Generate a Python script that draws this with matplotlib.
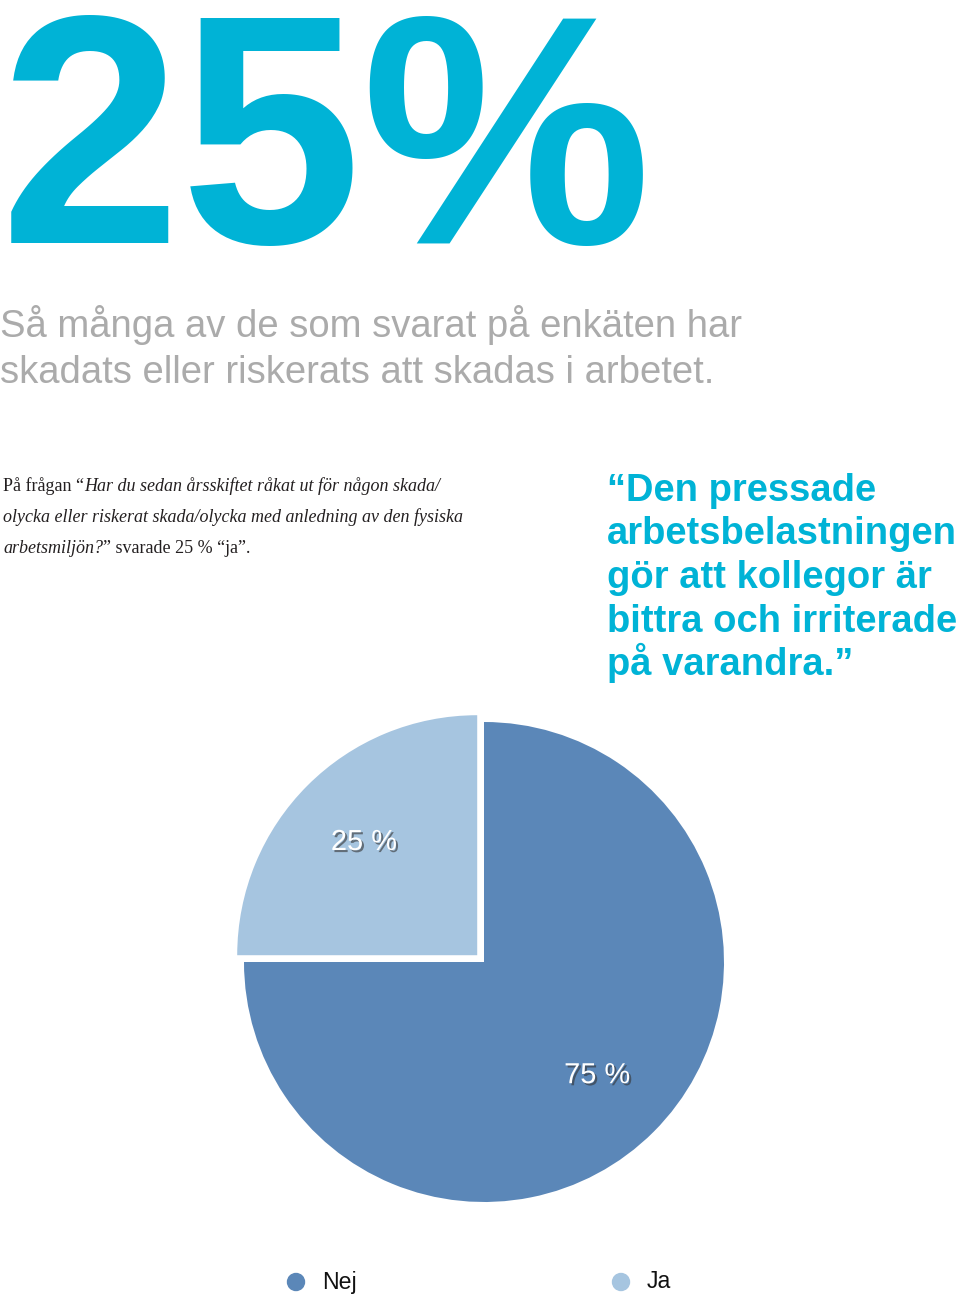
import matplotlib
matplotlib.use("Agg")
import matplotlib.pyplot as plt
import matplotlib.patheffects as pe

W, H = 960, 1297
DPI = 100

# ---- data ----
categories = ["Nej", "Ja"]
values = [75, 25]
colors = ["#5b87b8", "#a6c5e0"]
pct_labels = ["75 %", "25 %"]

big_number = "25%"
subtitle_lines = ["Så många av de som svarat på enkäten har",
                  "skadats eller riskerats att skadas i arbetet."]
quote_lines = ["“Den pressade", "arbetsbelastningen", "gör att kollegor är",
               "bittra och irriterade", "på varandra.”"]
# paragraph pieces: (text, italic)
para_lines = [
    [("På frågan “", False), ("Har du sedan årsskiftet råkat ut för någon skada/", True)],
    [("olycka eller riskerat skada/olycka med anledning av den fysiska", True)],
    [("arbetsmiljön?", True), ("” svarade 25 % “ja”.", False)],
]

CYAN = "#00b3d6"
GREY = "#ababab"

fig = plt.figure(figsize=(W / DPI, H / DPI), dpi=DPI)
fig.patch.set_facecolor("white")


def fx(x):
    return x / W


def fy(y):
    return 1 - y / H


def pt(px):
    return px * 72 / DPI


# big number
fig.text(fx(0), fy(243), big_number, fontsize=pt(326), color=CYAN,
         family="Liberation Sans", weight="bold", ha="left", va="baseline")

# subtitle
for i, line in enumerate(subtitle_lines):
    fig.text(fx(0), fy(337 + 46 * i), line, fontsize=pt(38.3), color=GREY,
             family="Liberation Sans", ha="left", va="baseline")

# paragraph with mixed roman/italic
renderer = fig.canvas.get_renderer()
for i, pieces in enumerate(para_lines):
    x = 3
    y = 491 + 31 * i
    for txt, ital in pieces:
        t = fig.text(fx(x), fy(y), txt, fontsize=pt(18), color="#231f20",
                     family="Liberation Serif", style="italic" if ital else "normal",
                     ha="left", va="baseline")
        bb = t.get_window_extent(renderer=renderer)
        x += bb.width

# quote
for i, line in enumerate(quote_lines):
    fig.text(fx(607), fy(501 + 43.5 * i), line, fontsize=pt(38.1), color=CYAN,
             family="Liberation Sans", weight="bold", ha="left", va="baseline")

# pie
cx, cy, r = 484, 962, 240
half = 1.2 * r
ax = fig.add_axes([fx(cx - half), fy(cy + half), 2 * half / W, 2 * half / H])
wedges, _, autotexts = ax.pie(values, colors=colors, startangle=180, counterclock=True,
                              explode=[0, 0.04], radius=1.0,
                              autopct=lambda p: "", pctdistance=0.667,
                              wedgeprops=dict(linewidth=0))
for at, lab in zip(autotexts, pct_labels):
    at.set_text(lab)
    at.set_color("white")
    at.set_fontsize(pt(29))
    at.set_family("Liberation Sans")
    at.set_path_effects([pe.SimplePatchShadow(offset=(1.5, -1.5), shadow_rgbFace="#333333", alpha=0.6),
                         pe.Normal()])
ax.set_xlim(-1.2, 1.2)
ax.set_ylim(-1.2, 1.2)
ax.set_aspect("equal")
ax.axis("off")

# legend
leg_x = [296, 621]
for xm, cat, col in zip(leg_x, categories, colors):
    fig.add_artist(matplotlib.patches.Ellipse((fx(xm), fy(1282)), 17 / W, 17 / H,
                                              transform=fig.transFigure, color=col))
    fig.text(fx(xm + 26), fy(1282), cat, fontsize=pt(23), color="#111111",
             family="Liberation Sans", ha="left", va="center")

fig.savefig("out.png", dpi=DPI)
